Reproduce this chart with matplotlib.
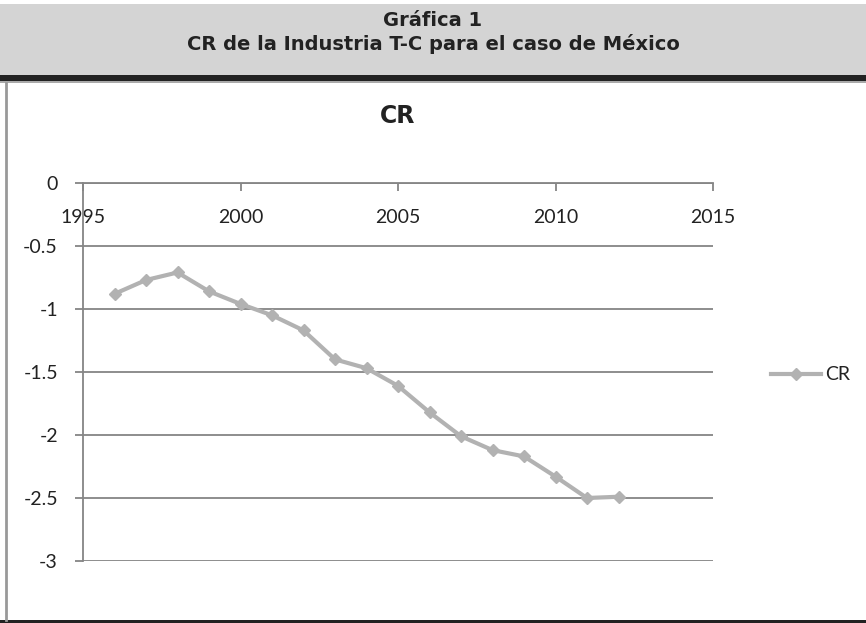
import matplotlib
matplotlib.use('Agg')
import matplotlib.pyplot as plt
from matplotlib.patches import Rectangle
from matplotlib.lines import Line2D

# datos
years = [1996, 1997, 1998, 1999, 2000, 2001, 2002, 2003, 2004,
         2005, 2006, 2007, 2008, 2009, 2010, 2011, 2012]
cr = [-0.88, -0.77, -0.71, -0.86, -0.96, -1.05, -1.17, -1.40, -1.47,
      -1.61, -1.82, -2.01, -2.12, -2.17, -2.33, -2.50, -2.49]
x_ticks = [1995, 2000, 2005, 2010, 2015]
y_ticks = [0, -0.5, -1, -1.5, -2, -2.5, -3]
y_labels = ['0', '-0.5', '-1', '-1.5', '-2', '-2.5', '-3']

W, H = 866, 623
GRID = '#858585'
LINE = '#b2b2b2'

fig = plt.figure(figsize=(W / 100, H / 100), dpi=100)

# encabezado
fig.patches.append(Rectangle((0, 1 - 75 / H), 1, 71 / H, transform=fig.transFigure,
                             facecolor='#d4d4d4', edgecolor='none', zorder=0))
fig.patches.append(Rectangle((0, 1 - 81 / H), 1, 6 / H, transform=fig.transFigure,
                             facecolor='#222222', edgecolor='none', zorder=1))
fig.patches.append(Rectangle((0, 1 - 83 / H), 1, 2 / H, transform=fig.transFigure,
                             facecolor='#aaaaaa', edgecolor='none', zorder=1))
# marco
fig.lines.append(Line2D([6 / W, 6 / W], [1 - 83 / H, 1 - 620 / H], transform=fig.transFigure,
                        color='#999999', lw=2))
fig.patches.append(Rectangle((0, 0), 1, 3 / H, transform=fig.transFigure,
                             facecolor='#222222', edgecolor='none', zorder=1))

fig.text(0.5, 1 - 21 / H, 'Gráfica 1', ha='center', va='center',
         fontsize=14, fontweight='bold', family='DejaVu Sans', color='#222222')
fig.text(0.5, 1 - 44 / H, 'CR de la Industria T-C para el caso de México', ha='center',
         va='center', fontsize=14, fontweight='bold', family='DejaVu Sans', color='#222222')

ax = fig.add_axes([83 / W, 1 - 561 / H, 630 / W, 378 / H])
ax.plot(years, cr, color=LINE, lw=3, marker='D', markersize=6.5, label='CR', zorder=3)

ax.set_xlim(1995, 2015)
ax.set_ylim(-3, 0)
ax.set_xticks(x_ticks)
ax.set_yticks(y_ticks)
ax.set_yticklabels(y_labels)

for s in ['top', 'right']:
    ax.spines[s].set_visible(False)
ax.spines['bottom'].set_position(('data', 0))
ax.spines['bottom'].set_color(GRID)
ax.spines['left'].set_color(GRID)
ax.spines['bottom'].set_linewidth(1.3)
ax.spines['left'].set_linewidth(1.3)

ax.yaxis.grid(True, color=GRID, lw=1.3)
ax.set_axisbelow(True)
ax.tick_params(axis='x', direction='out', length=6, width=1.3, color=GRID, pad=13,
               labelsize=14, labelcolor='#222222')
ax.tick_params(axis='y', direction='out', length=6, width=1.3, color=GRID, pad=12,
               labelsize=14, labelcolor='#222222')
for lab in ax.get_xticklabels() + ax.get_yticklabels():
    lab.set_family('Lato')

ax.set_title('CR', fontsize=17, fontweight='bold', family='DejaVu Sans',
             color='#222222', pad=43)

leg = fig.legend(loc='center left', bbox_to_anchor=(753 / W, 1 - 375 / H), frameon=False,
                 handlelength=2.6, handletextpad=0.2, prop={'family': 'Lato', 'size': 14})
for t in leg.get_texts():
    t.set_color('#222222')

fig.savefig('out.png', dpi=100)
